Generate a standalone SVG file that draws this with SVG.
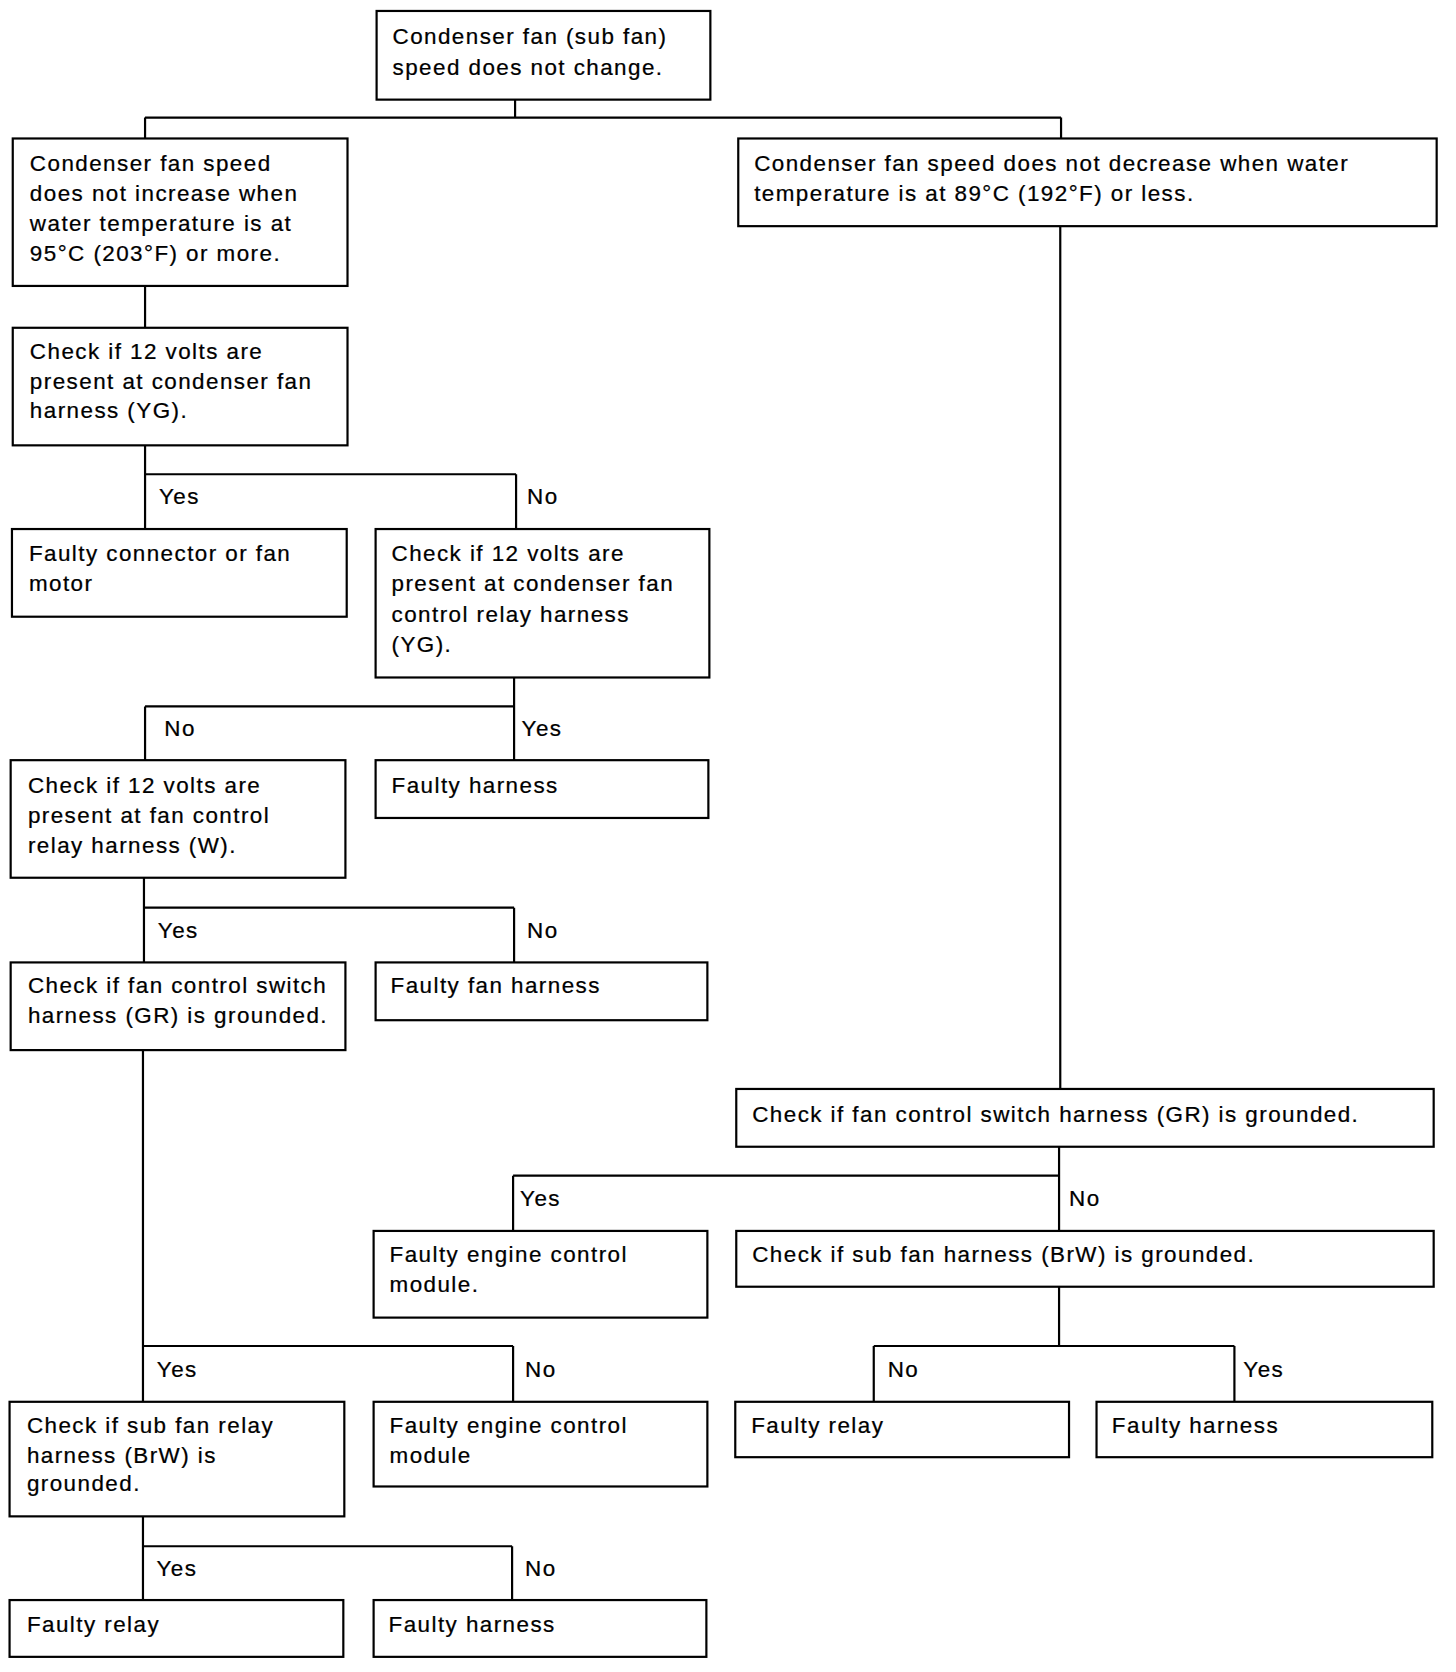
<svg xmlns="http://www.w3.org/2000/svg" width="1456" height="1672" viewBox="0 0 1456 1672">
<style>
.box{fill:#fff;stroke:#000;stroke-width:2.2}
.t{font-family:"Liberation Sans",Arial,sans-serif;font-size:22.5px;letter-spacing:1.45px;fill:#000;stroke:#000;stroke-width:0.25}
.c{stroke:#000;stroke-width:2.2;fill:none}
</style>
<rect width="1456" height="1672" fill="#fff"/>
<g id="diagram" transform="scale(0.9963)">
<g id="connectors">
<path class="c" d="M517 100V118M145.6 118H1065M145.6 118V139M1065 118V139"/>
<path class="c" d="M145.6 287V329"/>
<path class="c" d="M145.6 446V531M145.6 476H518M518 476V531"/>
<path class="c" d="M516 680V763M145.6 709H516M145.6 709V763"/>
<path class="c" d="M144.5 881V966M144.5 911H516M516 911V966"/>
<path class="c" d="M143.5 1053.5V1407M143.5 1351H515M515 1351V1407"/>
<path class="c" d="M143.5 1522V1606M143.5 1552H514M514 1552V1606"/>
<path class="c" d="M1064.2 227V1093"/>
<path class="c" d="M1063 1151V1235.5M515 1180H1063M515 1180V1235.5"/>
<path class="c" d="M1063 1291V1351M877 1351H1239M877 1351V1407M1239 1351V1407"/>
<g class="t">
<text x="159.5" y="506">Yes</text><text x="529" y="506">No</text>
<text x="165" y="739">No</text><text x="523.5" y="739">Yes</text>
<text x="158.4" y="941">Yes</text><text x="529" y="941">No</text>
<text x="157.4" y="1382">Yes</text><text x="527" y="1382">No</text>
<text x="157" y="1582">Yes</text><text x="527" y="1582">No</text>
<text x="522" y="1210">Yes</text><text x="1073" y="1210">No</text>
<text x="891" y="1382">No</text><text x="1248" y="1382">Yes</text>
</g>
</g>
<g id="nA"><rect class="box" x="378" y="11" width="335" height="89"/><text class="t" x="394" y="44">Condenser fan (sub fan)</text><text class="t" x="394" y="75">speed does not change.</text></g>
<g id="nB"><rect class="box" x="12.8" y="139" width="336" height="148"/><text class="t" x="30" y="172">Condenser fan speed</text><text class="t" x="30" y="202">does not increase when</text><text class="t" x="30" y="232">water temperature is at</text><text class="t" x="30" y="262">95°C (203°F) or more.</text></g>
<g id="nC"><rect class="box" x="741" y="139" width="701" height="88"/><text class="t" x="757" y="172">Condenser fan speed does not decrease when water</text><text class="t" x="757" y="202">temperature is at 89°C (192°F) or less.</text></g>
<g id="nD"><rect class="box" x="12.8" y="329" width="336" height="118"/><text class="t" x="30" y="360">Check if 12 volts are</text><text class="t" x="30" y="390">present at condenser fan</text><text class="t" x="30" y="420">harness (YG).</text></g>
<g id="nE1"><rect class="box" x="12" y="531" width="336" height="88"/><text class="t" x="29" y="563">Faulty connector or fan</text><text class="t" x="29" y="593">motor</text></g>
<g id="nE2"><rect class="box" x="377" y="531" width="335" height="149"/><text class="t" x="393" y="563">Check if 12 volts are</text><text class="t" x="393" y="593">present at condenser fan</text><text class="t" x="393" y="624">control relay harness</text><text class="t" x="393" y="654">(YG).</text></g>
<g id="nF1"><rect class="box" x="10.7" y="763" width="336" height="118"/><text class="t" x="28" y="796">Check if 12 volts are</text><text class="t" x="28" y="826">present at fan control</text><text class="t" x="28" y="856">relay harness (W).</text></g>
<g id="nF2"><rect class="box" x="377" y="763" width="334" height="58"/><text class="t" x="393" y="796">Faulty harness</text></g>
<g id="nG1"><rect class="box" x="10.7" y="966" width="336" height="88"/><text class="t" x="28" y="997">Check if fan control switch</text><text class="t" x="28" y="1027">harness (GR) is grounded.</text></g>
<g id="nG2"><rect class="box" x="377" y="966" width="333" height="58"/><text class="t" x="392" y="997">Faulty fan harness</text></g>
<g id="nH1"><rect class="box" x="9.6" y="1407" width="336" height="115"/><text class="t" x="27" y="1438">Check if sub fan relay</text><text class="t" x="27" y="1468">harness (BrW) is</text><text class="t" x="27" y="1497">grounded.</text></g>
<g id="nH2"><rect class="box" x="375" y="1407" width="335" height="85"/><text class="t" x="391" y="1438">Faulty engine control</text><text class="t" x="391" y="1468">module</text></g>
<g id="nI1"><rect class="box" x="9.6" y="1606" width="335" height="57"/><text class="t" x="27" y="1638">Faulty relay</text></g>
<g id="nI2"><rect class="box" x="375" y="1606" width="334" height="57"/><text class="t" x="390" y="1638">Faulty harness</text></g>
<g id="nJ"><rect class="box" x="739" y="1093" width="700" height="58"/><text class="t" x="755" y="1126">Check if fan control switch harness (GR) is grounded.</text></g>
<g id="nK1"><rect class="box" x="375" y="1235.5" width="335" height="87"/><text class="t" x="391" y="1267">Faulty engine control</text><text class="t" x="391" y="1297">module.</text></g>
<g id="nK2"><rect class="box" x="739" y="1235.5" width="700" height="56"/><text class="t" x="755" y="1267">Check if sub fan harness (BrW) is grounded.</text></g>
<g id="nL1"><rect class="box" x="738" y="1407" width="335" height="55.6"/><text class="t" x="754" y="1438">Faulty relay</text></g>
<g id="nL2"><rect class="box" x="1100.6" y="1407" width="337" height="55.6"/><text class="t" x="1116" y="1438">Faulty harness</text></g>
</g>
</svg>
